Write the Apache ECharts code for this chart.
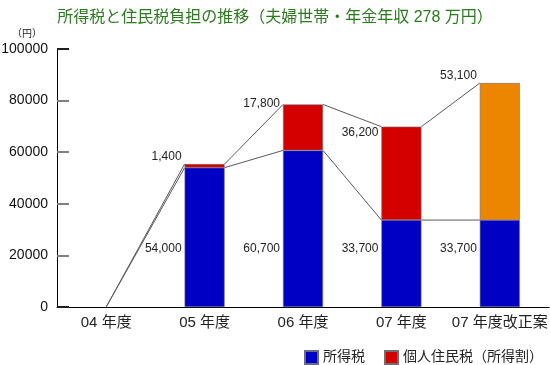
<!DOCTYPE html>
<html>
<head>
<meta charset="utf-8">
<script src="https://cdn.jsdelivr.net/npm/echarts@6/dist/echarts.min.js"></script>
<style>
html,body{margin:0;padding:0;background:#fff;}
#c{width:550px;height:365px;}
</style>
</head>
<body>
<div id="c"></div>
<script>
// ---- data ----
const categories = ['04 年度', '05 年度', '06 年度', '07 年度', '07 年度改正案'];
const incomeTax = [0, 54000, 60700, 33700, 33700];          // 所得税
const residentTax = [0, 1400, 17800, 36200, null];           // 個人住民税（所得割）
const residentTaxRevised = [null, null, null, null, 53100];  // 改正案
const yTicks = [0, 20000, 40000, 60000, 80000, 100000];

// ---- style ----
const FONT = '"Liberation Sans", "Noto Sans CJK JP", sans-serif';
const BAR_W = 40;
const topLabelDy = [0, -7, -1, 6, -7];

const chart = echarts.init(document.getElementById('c'), null, {renderer: 'canvas'});

function fmt(v) { return Number(v).toLocaleString('en-US'); }

const baseData = incomeTax.map(v => v ? v : '-');
const topData = categories.map((c, i) => {
  const v = residentTax[i];
  if (!v) return '-';
  return {value: v, label: {offset: [-3, topLabelDy[i]]}};
});
const revData = categories.map((c, i) => {
  const v = residentTaxRevised[i];
  if (!v) return '-';
  return {value: v, label: {offset: [-3, topLabelDy[i]]}};
});
const totals = categories.map((c, i) =>
  incomeTax[i] + (residentTax[i] || 0) + (residentTaxRevised[i] || 0));

// connector lines between consecutive categories
const connData = [];
for (let i = 0; i < categories.length - 1; i++) {
  connData.push([i, incomeTax[i], totals[i], incomeTax[i + 1], totals[i + 1]]);
}

const labelCommon = {
  show: true,
  color: '#222',
  fontSize: 12,
  fontFamily: FONT,
  align: 'right',
  verticalAlign: 'middle',
  formatter: p => fmt(p.value)
};

const option = {
  animation: false,
  backgroundColor: '#fff',
  textStyle: {fontFamily: FONT},
  title: {
    text: '所得税と住民税負担の推移（夫婦世帯・年金年収 278 万円）',
    left: 'center',
    top: 5,
    textStyle: {fontSize: 16, fontWeight: 'normal', color: '#2a7a1e', fontFamily: FONT}
  },
  legend: {
    data: ['所得税', '個人住民税（所得割）'],
    right: 2,
    top: 345,
    itemWidth: 13,
    itemHeight: 13,
    itemGap: 19,
    icon: 'rect',
    textStyle: {fontSize: 14, color: '#222', fontFamily: FONT}
  },
  grid: {left: 57, right: 1, top: 49, bottom: 58, containLabel: false, outerBoundsMode: 'none'},
  xAxis: {
    type: 'category',
    data: categories,
    axisLine: {lineStyle: {color: '#000', width: 1}},
    axisTick: {show: false},
    axisLabel: {fontSize: 15, color: '#222', margin: 8, fontFamily: FONT, interval: 0}
  },
  yAxis: [{
    type: 'value',
    min: yTicks[0], max: yTicks[yTicks.length - 1], interval: yTicks[1] - yTicks[0],
    name: '（円）',
    nameLocation: 'end',
    nameGap: 10,
    nameTextStyle: {fontSize: 10, color: '#222', align: 'center', padding: [0, 60, 0, 0], fontFamily: FONT},
    axisLine: {show: true, lineStyle: {color: '#000', width: 1}},
    axisTick: {show: true, inside: true, length: 12, lineStyle: {color: '#808080', width: 2}},
    axisLabel: {fontSize: 14, color: '#111', margin: 9, fontFamily: FONT, formatter: v => String(v)},
    splitLine: {show: false}
  }, {
    type: 'value',
    position: 'left',
    min: yTicks[0], max: yTicks[yTicks.length - 1], interval: yTicks[yTicks.length - 1],
    axisLine: {show: false},
    axisLabel: {show: false},
    axisTick: {show: true, inside: true, length: 12, lineStyle: {color: '#000', width: 1.5}},
    splitLine: {show: false}
  }],
  series: [
    {
      name: '所得税',
      type: 'bar',
      stack: 'tax',
      barWidth: BAR_W,
      data: baseData,
      itemStyle: {color: '#0000c4', borderColor: '#6a6a8a', borderWidth: 0.6},
      label: Object.assign({}, labelCommon, {position: [0, '100%'], offset: [-3, -58]}),
      z: 3
    },
    {
      name: '個人住民税（所得割）',
      type: 'bar',
      stack: 'tax',
      barWidth: BAR_W,
      data: topData,
      itemStyle: {color: '#d40000', borderColor: '#707070', borderWidth: 0.6},
      label: Object.assign({}, labelCommon, {position: [0, 0]}),
      z: 3
    },
    {
      name: '個人住民税（所得割）改正案',
      type: 'bar',
      stack: 'tax',
      barWidth: BAR_W,
      data: revData,
      itemStyle: {color: '#ec8600', borderColor: '#707070', borderWidth: 0.6},
      label: Object.assign({}, labelCommon, {position: [0, 0]}),
      z: 3
    },
    {
      name: 'connectors',
      type: 'custom',
      silent: true,
      z: 2,
      encode: {x: 0, y: [1, 2, 3, 4]},
      data: connData,
      renderItem: function (params, api) {
        const i = api.value(0);
        const half = BAR_W / 2;
        const xStart = api.coord([i, 0])[0] + (i === 0 ? 0 : half);
        const xEnd = api.coord([i + 1, 0])[0] - half;
        const yA1 = api.coord([i, api.value(1)])[1];
        const yA2 = api.coord([i, api.value(2)])[1];
        const yB1 = api.coord([i + 1, api.value(3)])[1];
        const yB2 = api.coord([i + 1, api.value(4)])[1];
        const st = {stroke: '#5a5a5a', lineWidth: 1, fill: null};
        return {
          type: 'group',
          children: [
            {type: 'line', shape: {x1: xStart, y1: yA1, x2: xEnd, y2: yB1}, style: st},
            {type: 'line', shape: {x1: xStart, y1: yA2, x2: xEnd, y2: yB2}, style: st}
          ]
        };
      }
    }
  ]
};

chart.setOption(option);
</script>
</body>
</html>
